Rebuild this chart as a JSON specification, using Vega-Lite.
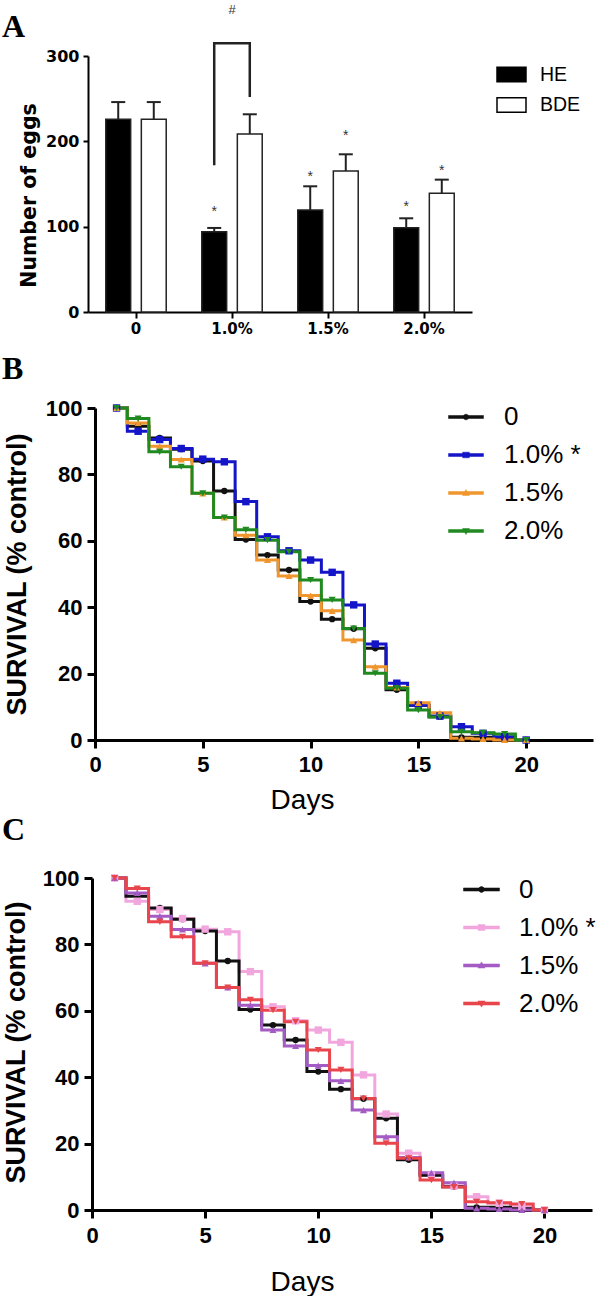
{
  "$schema": "https://vega.github.io/schema/vega-lite/v6.json",
  "background": "white",
  "padding": {"left": 2, "top": 3, "right": 0, "bottom": 0},
  "columns": 1,
  "align": "none",
  "spacing": 17,
  "config": {"view": {"stroke": null}, "axis": {"grid": false}},
  "datasets": {
    "eggs": [
      {"dose": "0", "group": "HE", "mean": 226, "upper": 246, "star": null},
      {"dose": "0", "group": "BDE", "mean": 226, "upper": 246, "star": null},
      {"dose": "1.0%", "group": "HE", "mean": 94, "upper": 98.5, "star": 121.5},
      {"dose": "1.0%", "group": "BDE", "mean": 208.6, "upper": 231.7, "star": null},
      {"dose": "1.5%", "group": "HE", "mean": 119.5, "upper": 147.3, "star": 163.3},
      {"dose": "1.5%", "group": "BDE", "mean": 165.2, "upper": 184.8, "star": 211.3},
      {"dose": "2.0%", "group": "HE", "mean": 98.8, "upper": 109.8, "star": 127.4},
      {"dose": "2.0%", "group": "BDE", "mean": 139.1, "upper": 155.1, "star": 170.3}
    ],
    "bracket": [
      {"dose": "1.0%", "group": "HE", "y": 172, "k": 1},
      {"dose": "1.0%", "group": "HE", "y": 315, "k": 2},
      {"dose": "1.0%", "group": "BDE", "y": 315, "k": 3},
      {"dose": "1.0%", "group": "BDE", "y": 252, "k": 4}
    ],
    "hash": [{"dose": "1.0%", "y": 354, "label": "#"}],
    "surv": [
      {"series": "0", "day": 1, "pct": 100}, {"series": "0", "day": 2, "pct": 94.5}, {"series": "0", "day": 3, "pct": 91}, {"series": "0", "day": 4, "pct": 87.6}, {"series": "0", "day": 5, "pct": 84}, {"series": "0", "day": 6, "pct": 75}, {"series": "0", "day": 7, "pct": 60.4}, {"series": "0", "day": 8, "pct": 55.7}, {"series": "0", "day": 9, "pct": 51.2}, {"series": "0", "day": 10, "pct": 41.7}, {"series": "0", "day": 11, "pct": 36.4}, {"series": "0", "day": 12, "pct": 33.5}, {"series": "0", "day": 13, "pct": 27.6}, {"series": "0", "day": 14, "pct": 15.1}, {"series": "0", "day": 15, "pct": 10.5}, {"series": "0", "day": 16, "pct": 7.0}, {"series": "0", "day": 17, "pct": 0.8}, {"series": "0", "day": 18, "pct": 0.8}, {"series": "0", "day": 19, "pct": 0.4}, {"series": "0", "day": 20, "pct": 0},
      {"series": "1.0%", "day": 1, "pct": 100}, {"series": "1.0%", "day": 2, "pct": 93}, {"series": "1.0%", "day": 3, "pct": 90.5}, {"series": "1.0%", "day": 4, "pct": 87.8}, {"series": "1.0%", "day": 5, "pct": 84.6}, {"series": "1.0%", "day": 6, "pct": 83.8}, {"series": "1.0%", "day": 7, "pct": 71.8}, {"series": "1.0%", "day": 8, "pct": 61.2}, {"series": "1.0%", "day": 9, "pct": 57}, {"series": "1.0%", "day": 10, "pct": 54.2}, {"series": "1.0%", "day": 11, "pct": 50.5}, {"series": "1.0%", "day": 12, "pct": 40.7}, {"series": "1.0%", "day": 13, "pct": 28.9}, {"series": "1.0%", "day": 14, "pct": 17.1}, {"series": "1.0%", "day": 15, "pct": 10.5}, {"series": "1.0%", "day": 16, "pct": 7.2}, {"series": "1.0%", "day": 17, "pct": 4.0}, {"series": "1.0%", "day": 18, "pct": 2.0}, {"series": "1.0%", "day": 19, "pct": 1.0}, {"series": "1.0%", "day": 20, "pct": 0},
      {"series": "1.5%", "day": 1, "pct": 100}, {"series": "1.5%", "day": 2, "pct": 95.5}, {"series": "1.5%", "day": 3, "pct": 88.5}, {"series": "1.5%", "day": 4, "pct": 84.5}, {"series": "1.5%", "day": 5, "pct": 74.3}, {"series": "1.5%", "day": 6, "pct": 67}, {"series": "1.5%", "day": 7, "pct": 61.7}, {"series": "1.5%", "day": 8, "pct": 54.2}, {"series": "1.5%", "day": 9, "pct": 49.4}, {"series": "1.5%", "day": 10, "pct": 43.5}, {"series": "1.5%", "day": 11, "pct": 38.9}, {"series": "1.5%", "day": 12, "pct": 30.1}, {"series": "1.5%", "day": 13, "pct": 22.1}, {"series": "1.5%", "day": 14, "pct": 15.8}, {"series": "1.5%", "day": 15, "pct": 11.2}, {"series": "1.5%", "day": 16, "pct": 8.2}, {"series": "1.5%", "day": 17, "pct": 0.5}, {"series": "1.5%", "day": 18, "pct": 0.3}, {"series": "1.5%", "day": 19, "pct": 0}, {"series": "1.5%", "day": 20, "pct": 0},
      {"series": "2.0%", "day": 1, "pct": 100}, {"series": "2.0%", "day": 2, "pct": 96.8}, {"series": "2.0%", "day": 3, "pct": 86.8}, {"series": "2.0%", "day": 4, "pct": 82.3}, {"series": "2.0%", "day": 5, "pct": 74.3}, {"series": "2.0%", "day": 6, "pct": 67}, {"series": "2.0%", "day": 7, "pct": 63.3}, {"series": "2.0%", "day": 8, "pct": 60.2}, {"series": "2.0%", "day": 9, "pct": 56.7}, {"series": "2.0%", "day": 10, "pct": 48.2}, {"series": "2.0%", "day": 11, "pct": 42.2}, {"series": "2.0%", "day": 12, "pct": 33.6}, {"series": "2.0%", "day": 13, "pct": 20.1}, {"series": "2.0%", "day": 14, "pct": 15.6}, {"series": "2.0%", "day": 15, "pct": 9.0}, {"series": "2.0%", "day": 16, "pct": 6.9}, {"series": "2.0%", "day": 17, "pct": 2.5}, {"series": "2.0%", "day": 18, "pct": 2.2}, {"series": "2.0%", "day": 19, "pct": 1.8}, {"series": "2.0%", "day": 20, "pct": 0}
    ]
  },
  "resolve": {
    "scale": {"color": "independent", "shape": "independent"},
    "legend": {"color": "independent", "shape": "independent"}
  },
  "concat": [
    {
      "width": 384,
      "height": 256,
      "title": {"text": "A", "anchor": "start", "frame": "group", "dx": -93, "offset": -65, "font": "Liberation Serif", "fontSize": 32, "fontWeight": "bold", "baseline": "alphabetic", "color": "black"},
      "layer": [
        {
          "data": {"name": "eggs"},
          "mark": {"type": "bar", "stroke": "#222222", "strokeWidth": 1.5},
          "encoding": {
            "x": {"field": "dose", "type": "nominal", "scale": {"domain": ["0", "1.0%", "1.5%", "2.0%"], "range": [-7, 377], "paddingInner": 0, "paddingOuter": 0},
              "axis": {"title": null, "labelAngle": 0, "labelFont": "DejaVu Sans", "labelFontWeight": "bold", "labelFontSize": 15, "labelColor": "black", "labelPadding": 3, "tickSize": 6, "tickWidth": 2, "tickColor": "black", "domainColor": "black", "domainWidth": 2}},
            "xOffset": {"field": "group", "type": "nominal", "scale": {"domain": ["HE", "BDE"], "paddingInner": 0.3, "paddingOuter": 0.5}},
            "y": {"field": "mean", "type": "quantitative", "scale": {"domain": [0, 300], "nice": false},
              "axis": {"values": [0, 100, 200, 300], "offset": 7, "title": "Number of eggs", "titleFont": "DejaVu Sans", "titleFontWeight": "bold", "titleFontSize": 20.5, "titleColor": "black", "titleX": -59, "titleY": 139, "titleBaseline": "middle", "titleAlign": "center", "titleAngle": 270,
                "labelFont": "DejaVu Sans", "labelFontWeight": "bold", "labelFontSize": 16, "labelColor": "black", "labelPadding": 4, "tickSize": 5, "tickWidth": 2, "tickColor": "black", "domainColor": "black", "domainWidth": 2}},
            "fill": {"field": "group", "type": "nominal", "scale": {"domain": ["HE", "BDE"], "range": ["black", "white"]},
              "legend": {"title": null, "orient": "none", "legendX": 401, "legendY": 3, "symbolType": "M-1,-0.5H1V0.5H-1Z", "symbolSize": 841, "symbolStrokeColor": "black", "symbolStrokeWidth": 1.5, "labelFont": "Liberation Sans", "labelFontSize": 19.5, "labelColor": "black", "labelOffset": 13, "rowPadding": 4.5}}
          }
        },
        {
          "data": {"name": "eggs"},
          "mark": {"type": "rule", "strokeWidth": 2, "color": "#222222"},
          "encoding": {
            "x": {"field": "dose", "type": "nominal"},
            "xOffset": {"field": "group", "type": "nominal"},
            "y": {"field": "mean", "type": "quantitative"},
            "y2": {"field": "upper"}
          }
        },
        {
          "data": {"name": "eggs"},
          "mark": {"type": "tick", "orient": "horizontal", "size": 14, "thickness": 2, "color": "#222222", "opacity": 1},
          "encoding": {
            "x": {"field": "dose", "type": "nominal"},
            "xOffset": {"field": "group", "type": "nominal"},
            "y": {"field": "upper", "type": "quantitative"}
          }
        },
        {
          "data": {"name": "eggs"},
          "transform": [{"filter": "datum.star != null"}],
          "mark": {"type": "text", "text": "*", "fontSize": 14, "font": "Liberation Sans", "color": "#333333", "baseline": "middle", "dy": 4},
          "encoding": {
            "x": {"field": "dose", "type": "nominal"},
            "xOffset": {"field": "group", "type": "nominal"},
            "y": {"field": "star", "type": "quantitative"}
          }
        },
        {
          "data": {"name": "bracket"},
          "mark": {"type": "line", "strokeWidth": 2.5, "color": "#222222"},
          "encoding": {
            "x": {"field": "dose", "type": "nominal"},
            "xOffset": {"field": "group", "type": "nominal"},
            "y": {"field": "y", "type": "quantitative"},
            "order": {"field": "k"}
          }
        },
        {
          "data": {"name": "hash"},
          "mark": {"type": "text", "fontSize": 13, "font": "Liberation Sans", "color": "#333333", "baseline": "middle"},
          "encoding": {
            "x": {"field": "dose", "type": "nominal"},
            "y": {"field": "y", "type": "quantitative"},
            "text": {"field": "label"}
          }
        }
      ]
    },
    {
      "columns": 1,
      "align": "none",
      "spacing": 0,
      "resolve": {
        "scale": {"color": "independent", "shape": "independent"},
        "legend": {"color": "independent", "shape": "independent"}
      },
      "concat": [
        {
          "width": 498,
          "height": 332,
          "title": {"text": "B", "anchor": "start", "frame": "group", "dx": -93, "offset": -14, "font": "Liberation Serif", "fontSize": 32, "fontWeight": "bold", "baseline": "alphabetic", "color": "black"},
          "data": {"name": "surv"},
          "encoding": {
            "x": {"field": "day", "type": "quantitative", "scale": {"domain": [0, 23.1], "nice": false},
              "axis": {"values": [0, 5, 10, 15, 20], "format": "d", "labelFlush": false, "title": "Days", "titleFont": "Liberation Sans", "titleFontSize": 28, "titleFontWeight": "normal", "titleColor": "black", "titleX": 207, "titleY": 60, "titleBaseline": "middle", "titleAlign": "center",
                "labelFont": "Liberation Sans", "labelFontWeight": "bold", "labelFontSize": 22, "labelColor": "black", "labelPadding": 6, "tickSize": 8, "tickWidth": 3, "tickColor": "black", "domainColor": "black", "domainWidth": 3}},
            "y": {"field": "pct", "type": "quantitative", "scale": {"domain": [0, 100], "nice": false},
              "axis": {"values": [0, 20, 40, 60, 80, 100], "title": "SURVIVAL (% control)", "titleFont": "Liberation Sans", "titleFontSize": 27, "titleFontWeight": "bold", "titleColor": "black", "titleX": -78, "titleY": 166, "titleBaseline": "middle", "titleAlign": "center", "titleAngle": 270,
                "labelFont": "Liberation Sans", "labelFontWeight": "bold", "labelFontSize": 22, "labelColor": "black", "labelPadding": 5, "tickSize": 8, "tickWidth": 3, "tickColor": "black", "domainColor": "black", "domainWidth": 3}}
          },
          "layer": [
            {
              "mark": {"type": "line", "interpolate": "step", "strokeWidth": 3},
              "encoding": {
                "color": {"field": "series", "type": "nominal", "scale": {"domain": ["0", "1.0%", "1.5%", "2.0%"], "range": ["#111111", "#1414c8", "#f0962e", "#208a20"]},
                  "legend": {"title": null, "orient": "none", "legendX": 353, "legendY": -9, "symbolSize": 1225, "symbolStrokeWidth": 0.5, "labelFont": "Liberation Sans", "labelFontSize": 26, "labelColor": "black", "labelOffset": 20, "rowPadding": 7,
                    "labelExpr": "datum.label == '1.0%' ? '1.0% *' : datum.label"}}
              }
            },
            {
              "mark": {"type": "point", "filled": true, "opacity": 1, "size": 0},
              "encoding": {
                "color": {"field": "series", "type": "nominal", "legend": null},
                "shape": {"field": "series", "type": "nominal", "legend": null, "scale": {"domain": ["0", "1.0%", "1.5%", "2.0%"], "range": [
                  "M-1,-0.086H1V0.086H-1Z M0.16,0A0.16,0.16 0 1,1 -0.16,0A0.16,0.16 0 1,1 0.16,0Z",
                  "M-1,-0.086H1V0.086H-1Z M-0.19,-0.16H0.19V0.16H-0.19Z",
                  "M-1,-0.086H1V0.086H-1Z M0,-0.2L0.2,0.14H-0.2Z",
                  "M-1,-0.086H1V0.086H-1Z M0,0.2L-0.2,-0.14H0.2Z"]}}
              }
            },
            {
              "transform": [{"filter": "datum.series == '0'"}],
              "mark": {"type": "point", "filled": true, "opacity": 1, "shape": "circle", "size": 40},
              "encoding": {"color": {"field": "series", "type": "nominal", "legend": null}}
            },
            {
              "transform": [{"filter": "datum.series == '1.0%'"}],
              "mark": {"type": "point", "filled": true, "opacity": 1, "shape": "square", "size": 55},
              "encoding": {"color": {"field": "series", "type": "nominal", "legend": null}}
            },
            {
              "transform": [{"filter": "datum.series == '1.5%'"}],
              "mark": {"type": "point", "filled": true, "opacity": 1, "shape": "triangle-up", "size": 50},
              "encoding": {"color": {"field": "series", "type": "nominal", "legend": null}}
            },
            {
              "transform": [{"filter": "datum.series == '2.0%'"}],
              "mark": {"type": "point", "filled": true, "opacity": 1, "shape": "triangle-down", "size": 50},
              "encoding": {"color": {"field": "series", "type": "nominal", "legend": null}}
            }
          ]
        },
        {
          "width": 500,
          "height": 332,
          "title": {"text": "C", "anchor": "start", "frame": "group", "dx": -93, "offset": -5, "font": "Liberation Serif", "fontSize": 32, "fontWeight": "bold", "baseline": "alphabetic", "color": "black"},
          "data": {"name": "surv"},
          "encoding": {
            "x": {"field": "day", "type": "quantitative", "scale": {"domain": [0, 22.1], "range": [-3, 497], "nice": false},
              "axis": {"values": [0, 5, 10, 15, 20], "format": "d", "labelFlush": false, "title": "Days", "titleFont": "Liberation Sans", "titleFontSize": 28, "titleFontWeight": "normal", "titleColor": "black", "titleX": 207, "titleY": 72, "titleBaseline": "middle", "titleAlign": "center",
                "labelFont": "Liberation Sans", "labelFontWeight": "bold", "labelFontSize": 22, "labelColor": "black", "labelPadding": 7, "tickSize": 8, "tickWidth": 3, "tickColor": "black", "domainColor": "black", "domainWidth": 3}},
            "y": {"field": "pct", "type": "quantitative", "scale": {"domain": [0, 100], "nice": false},
              "axis": {"values": [0, 20, 40, 60, 80, 100], "offset": 3, "title": "SURVIVAL (% control)", "titleFont": "Liberation Sans", "titleFontSize": 27, "titleFontWeight": "bold", "titleColor": "black", "titleX": -76, "titleY": 164, "titleBaseline": "middle", "titleAlign": "center", "titleAngle": 270,
                "labelFont": "Liberation Sans", "labelFontWeight": "bold", "labelFontSize": 22, "labelColor": "black", "labelPadding": 5, "tickSize": 8, "tickWidth": 3, "tickColor": "black", "domainColor": "black", "domainWidth": 3}}
          },
          "layer": [
            {
              "transform": [{"filter": "datum.series == '1.0%'"}],
              "mark": {"type": "line", "interpolate": "step", "strokeWidth": 3},
              "encoding": {
                "color": {"field": "series", "type": "nominal", "scale": {"domain": ["0", "1.0%", "1.5%", "2.0%"], "range": ["#111111", "#f2a6de", "#a45cc4", "#e8464c"]},
                  "legend": {"title": null, "orient": "none", "legendX": 368, "legendY": -7, "symbolSize": 1296, "symbolStrokeWidth": 0.5, "labelFont": "Liberation Sans", "labelFontSize": 26, "labelColor": "black", "labelOffset": 19, "rowPadding": 6,
                    "labelExpr": "datum.label == '1.0%' ? '1.0% *' : datum.label"}}
              }
            },
            {
              "transform": [{"filter": "datum.series != '1.0%'"}],
              "mark": {"type": "line", "interpolate": "step", "strokeWidth": 3},
              "encoding": {"color": {"field": "series", "type": "nominal", "legend": null}}
            },
            {
              "mark": {"type": "point", "filled": true, "opacity": 1, "size": 0},
              "encoding": {
                "color": {"field": "series", "type": "nominal", "legend": null},
                "shape": {"field": "series", "type": "nominal", "legend": null, "scale": {"domain": ["0", "1.0%", "1.5%", "2.0%"], "range": [
                  "M-1,-0.086H1V0.086H-1Z M0.16,0A0.16,0.16 0 1,1 -0.16,0A0.16,0.16 0 1,1 0.16,0Z",
                  "M-1,-0.086H1V0.086H-1Z M-0.19,-0.16H0.19V0.16H-0.19Z",
                  "M-1,-0.086H1V0.086H-1Z M0,-0.2L0.2,0.14H-0.2Z",
                  "M-1,-0.086H1V0.086H-1Z M0,0.2L-0.2,-0.14H0.2Z"]}}
              }
            },
            {
              "transform": [{"filter": "datum.series == '0'"}],
              "mark": {"type": "point", "filled": true, "opacity": 1, "shape": "circle", "size": 40},
              "encoding": {"color": {"field": "series", "type": "nominal", "legend": null}}
            },
            {
              "transform": [{"filter": "datum.series == '1.0%'"}],
              "mark": {"type": "point", "filled": true, "opacity": 1, "shape": "square", "size": 55},
              "encoding": {"color": {"field": "series", "type": "nominal", "legend": null}}
            },
            {
              "transform": [{"filter": "datum.series == '1.5%'"}],
              "mark": {"type": "point", "filled": true, "opacity": 1, "shape": "triangle-up", "size": 50},
              "encoding": {"color": {"field": "series", "type": "nominal", "legend": null}}
            },
            {
              "transform": [{"filter": "datum.series == '2.0%'"}],
              "mark": {"type": "point", "filled": true, "opacity": 1, "shape": "triangle-down", "size": 50},
              "encoding": {"color": {"field": "series", "type": "nominal", "legend": null}}
            }
          ]
        }
      ]
    }
  ]
}
